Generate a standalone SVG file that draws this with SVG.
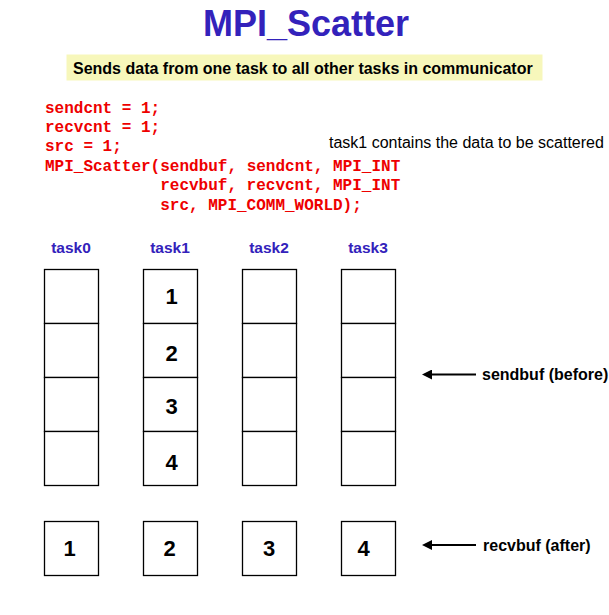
<svg xmlns="http://www.w3.org/2000/svg" width="609" height="615" viewBox="0 0 609 615">
<style>
.title{font-family:"Liberation Sans",Arial,sans-serif;font-weight:bold;font-size:36px;fill:#3322bb}
.sub{font-family:"Liberation Sans",Arial,sans-serif;font-weight:bold;font-size:16px;fill:#000}
.code{font-family:"Liberation Mono","Courier New",monospace;font-weight:bold;font-size:16px;fill:#ee0000}
.note{font-family:"Liberation Sans",Arial,sans-serif;font-size:16px;fill:#000}
.task{font-family:"Liberation Sans",Arial,sans-serif;font-weight:bold;font-size:15.5px;fill:#3322bb;text-anchor:middle}
.cell{fill:#fff;stroke:#000;stroke-width:1.3}
.dig{font-family:"Liberation Sans",Arial,sans-serif;font-weight:bold;font-size:22px;fill:#000;text-anchor:middle}
.lbl{font-family:"Liberation Sans",Arial,sans-serif;font-weight:bold;font-size:16px;fill:#000}
.conn{stroke:#000;stroke-width:2;fill:none}
</style>
<defs>
<marker id="ah" viewBox="0 0 10 10" refX="1" refY="5" markerWidth="5" markerHeight="5" orient="auto-start-reverse" markerUnits="strokeWidth">
<path d="M0,0 L10,5 L0,10 z" fill="#000"/>
</marker>
</defs>
<rect width="609" height="615" fill="#fff"/>
<text class="title" x="306" y="36" text-anchor="middle">MPI_Scatter</text>
<rect x="66.5" y="54.5" width="476" height="26" fill="#f7f7bb"/>
<text class="sub" x="73" y="74">Sends data from one task to all other tasks in communicator</text>
<g id="code">
<text class="code" x="45" y="112.5" xml:space="preserve">sendcnt = 1;</text>
<text class="code" x="45" y="131.5" xml:space="preserve">recvcnt = 1;</text>
<text class="code" x="45" y="151" xml:space="preserve">src = 1;</text>
<text class="code" x="45" y="170.5" xml:space="preserve">MPI_Scatter(sendbuf, sendcnt, MPI_INT</text>
<text class="code" x="160.2" y="190" xml:space="preserve">recvbuf, recvcnt, MPI_INT</text>
<text class="code" x="160.2" y="209.5" xml:space="preserve">src, MPI_COMM_WORLD);</text>
</g>
<text class="note" x="329" y="148">task1 contains the data to be scattered</text>
<g id="task0">
<text class="task" x="71" y="253">task0</text>
<rect class="cell" x="44.5" y="269.5" width="54" height="54"/>
<rect class="cell" x="44.5" y="323.5" width="54" height="54"/>
<rect class="cell" x="44.5" y="377.5" width="54" height="54"/>
<rect class="cell" x="44.5" y="431.5" width="54" height="54"/>
</g>
<g id="task1">
<text class="task" x="170" y="253">task1</text>
<rect class="cell" x="143.5" y="269.5" width="54" height="54"/>
<rect class="cell" x="143.5" y="323.5" width="54" height="54"/>
<rect class="cell" x="143.5" y="377.5" width="54" height="54"/>
<rect class="cell" x="143.5" y="431.5" width="54" height="54"/>
<text class="dig" x="171.5" y="304">1</text>
<text class="dig" x="171.5" y="361">2</text>
<text class="dig" x="171.5" y="414">3</text>
<text class="dig" x="171.5" y="470">4</text>
</g>
<g id="task2">
<text class="task" x="269" y="253">task2</text>
<rect class="cell" x="242.5" y="269.5" width="54" height="54"/>
<rect class="cell" x="242.5" y="323.5" width="54" height="54"/>
<rect class="cell" x="242.5" y="377.5" width="54" height="54"/>
<rect class="cell" x="242.5" y="431.5" width="54" height="54"/>
</g>
<g id="task3">
<text class="task" x="368" y="253">task3</text>
<rect class="cell" x="341.5" y="269.5" width="54" height="54"/>
<rect class="cell" x="341.5" y="323.5" width="54" height="54"/>
<rect class="cell" x="341.5" y="377.5" width="54" height="54"/>
<rect class="cell" x="341.5" y="431.5" width="54" height="54"/>
</g>
<g id="recv0"><rect class="cell" x="44.5" y="521.5" width="54" height="54"/><text class="dig" x="69.5" y="556">1</text></g>
<g id="recv1"><rect class="cell" x="143.5" y="521.5" width="54" height="54"/><text class="dig" x="169.5" y="556">2</text></g>
<g id="recv2"><rect class="cell" x="242.5" y="521.5" width="54" height="54"/><text class="dig" x="269" y="556">3</text></g>
<g id="recv3"><rect class="cell" x="341.5" y="521.5" width="54" height="54"/><text class="dig" x="363.5" y="556">4</text></g>
<g id="connectors">
<line class="conn" x1="476" y1="374.5" x2="431" y2="374.5" marker-end="url(#ah)"/>
<line class="conn" x1="476" y1="545" x2="431" y2="545" marker-end="url(#ah)"/>
</g>
<text class="lbl" x="482" y="380">sendbuf (before)</text>
<text class="lbl" x="483" y="550.5">recvbuf (after)</text>
</svg>
